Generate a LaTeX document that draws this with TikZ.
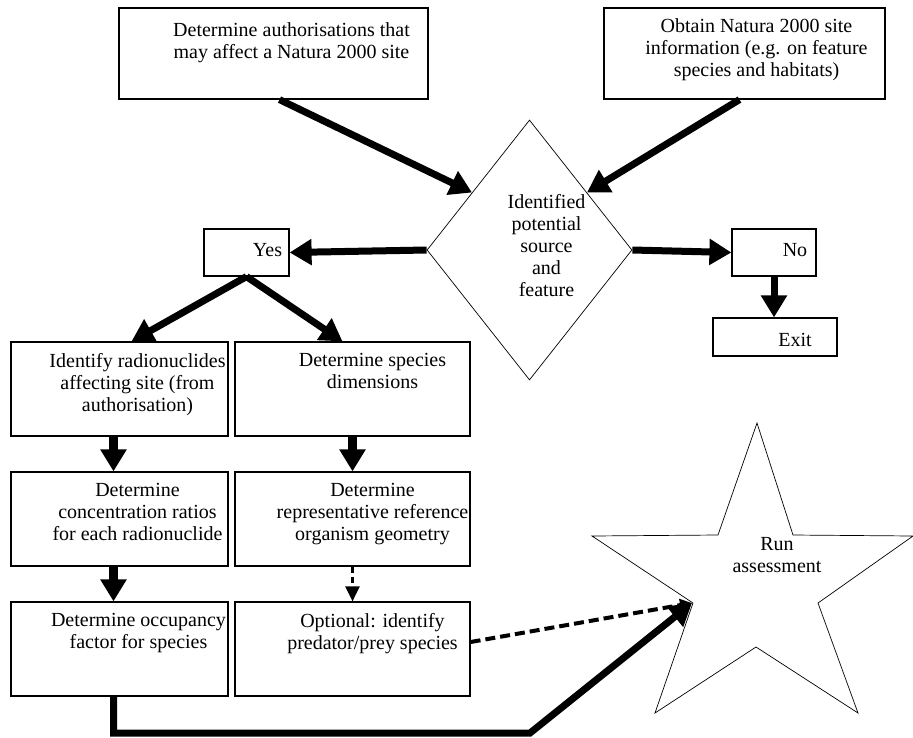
\documentclass[tikz,border=0pt]{standalone}
\usepackage{fontspec}
\setmainfont{Liberation Serif}
\usetikzlibrary{arrows.meta,positioning,shapes.geometric}

\begin{document}
\begin{tikzpicture}[
			x=1pt, y=-1pt,
			>={Triangle[length=22pt 0 0,width=25pt 0 0]},
			box/.style={draw, line width=1.2pt, rectangle, inner sep=0pt},
			lcol/.style={box, minimum width=217pt, minimum height=94pt},
			rcol/.style={box, minimum width=235pt, minimum height=94pt},
			decision/.style={draw, line width=0.7pt, diamond, inner sep=0pt, minimum width=205pt, minimum height=260pt},
			txt/.style={font=\fontsize{20}{22}\selectfont, align=center, inner sep=0pt, execute at begin node=\strut},
			flow/.style={->, line width=7pt},
			down/.style={flow, line width=8.5pt},
			optional/.style={-{Triangle[length=15pt 0 0,width=14pt 0 0]}, line width=2.5pt, dash pattern=on 6pt off 4pt},
			optflow/.style={-{Triangle[length=12pt 0 0,width=12pt 0 0]}, line width=4pt, dash pattern=on 10pt off 5pt}
	]
	\useasboundingbox (0,0) rectangle (913,737);

	% >> inputs and decision
	\node[box, minimum width=309pt, minimum height=91pt] (auth) at (273.5,53.5) {};
	\node[txt, below=14.6pt of auth.north, xshift=18pt] (authtext) {Determine authorisations that\\may affect a Natura 2000 site};
	\node[box, minimum width=281pt, minimum height=91pt] (info) at (744.5,53.5) {};
	\node[txt, below=10.6pt of info.north, xshift=12pt] (infotext) {Obtain Natura 2000 site\\information (e.g. on feature\\species and habitats)};
	\node[decision] (ident) at (529.5,250) {};
	\node[txt, below=74.6pt of ident.north, xshift=17pt] (identtext) {Identified\\potential\\source\\and\\feature};

	\node[box, minimum width=85pt, minimum height=47pt] (yes) at (246.5,252.5) {};
	\node[txt, below=12.6pt of yes.north, xshift=21pt] (yestext) {Yes};
	\node[box, minimum width=84pt, minimum height=47pt] (no) at (774,252.5) {};
	\node[txt, below=12.6pt of no.north, xshift=21pt] (notext) {No};
	\node[box, minimum width=124pt, minimum height=38pt] (exit) at (775,337) {};
	\node[txt, below=13.6pt of exit.north, xshift=20pt] (exittext) {Exit};

	% >> two columns
	\node[lcol] (radio) at (119.5,389) {};
	\node[txt, below=11.6pt of radio.north, xshift=18pt] (radiotext) {Identify radionuclides\\affecting site (from\\authorisation)};
	\node[rcol] (spec) at (352.5,389) {};
	\node[txt, below=11.6pt of spec.north, xshift=20pt] (spectext) {Determine species\\dimensions};
	\node[lcol] (conc) at (119.5,519) {};
	\node[txt, below=11.6pt of conc.north, xshift=18pt] (conctext) {Determine\\concentration ratios\\for each radionuclide};
	\node[rcol] (geom) at (352.5,519) {};
	\node[txt, below=11.6pt of geom.north, xshift=20pt] (geomtext) {Determine\\representative reference\\organism geometry};
	\node[lcol] (occ) at (119.5,649) {};
	\node[txt, below=11.6pt of occ.north, xshift=19pt] (occtext) {Determine occupancy\\factor for species};
	\node[rcol] (pred) at (352.5,649) {};
	\node[txt, below=11.6pt of pred.north, xshift=20pt] (predtext) {Optional: identify\\predator/prey species};

	% >> star
	\draw[line width=0.7pt] (757,423) -- (793,535) -- (913,536) -- (818,603) -- (858,713) -- (756,647)
		-- (655,713) -- (693,603) -- (592,536) -- (718,535) -- cycle;
	\node[txt, anchor=north] (runtext) at (777,537.6) {Run\\assessment};
	\coordinate (tip) at (692,603);
	\coordinate (bend) at (530,733);

	% >> connectors
	\draw[flow] ([xshift=6pt]auth.south) -- (ident.135);
	\draw[flow] ([xshift=-5pt]info.south) -- (ident.45);
	\draw[flow] (ident.west) -- (yes.east);
	\draw[flow] (ident.east) -- (no.west);
	\draw[flow] (no.south) -- (no.south |- exit.north);
	\draw[flow] (yes.south) -- ([xshift=12pt]radio.north);
	\draw[flow] (yes.south) -- ([xshift=-10pt]spec.north);
	\draw[down] ([xshift=-6pt]radio.south) -- ([xshift=-6pt]conc.north);
	\draw[down] ([xshift=-6pt]conc.south) -- ([xshift=-6pt]occ.north);
	\draw[down] (spec.south) -- (geom.north);
	\draw[optional] (geom.south) -- (pred.north);
	\draw[flow] ([xshift=-6pt]occ.south) |- (bend) -- (tip);
	\draw[optflow] ([yshift=7pt]pred.east) -- (tip);
\end{tikzpicture}
\end{document}
